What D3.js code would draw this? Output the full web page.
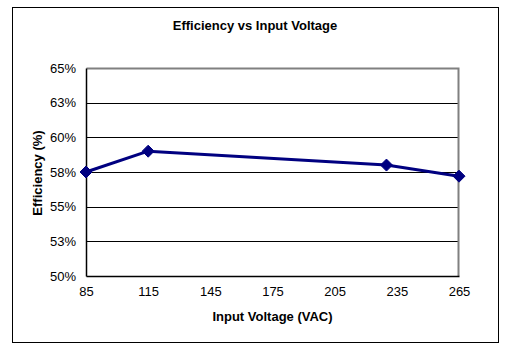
<!DOCTYPE html>
<html>
<head>
<meta charset="utf-8">
<script src="https://cdn.jsdelivr.net/npm/d3@7"></script>
<style>
  body { margin: 0; background: #fff; }
  svg text { font-family: "Liberation Sans", Arial, sans-serif; fill: #000; }
</style>
</head>
<body>
<svg id="chart"></svg>
<script>
// chart data
const voltages = [85, 115, 230, 265];
const efficiency = [57.5, 59.0, 58.0, 57.2];
const xTicks = [85, 115, 145, 175, 205, 235, 265];
const yTicks = [50, 52.5, 55, 57.5, 60, 62.5, 65];
const yTickLabels = ['50%', '53%', '55%', '58%', '60%', '63%', '65%'];

const width = 510, height = 353;
const margin = {top: 68, right: 51, bottom: 77, left: 86};

const svg = d3.select('#chart')
    .attr('width', width)
    .attr('height', height);

// outer chart frame
svg.append('rect')
    .attr('x', 12.5).attr('y', 7.5)
    .attr('width', 486).attr('height', 335)
    .attr('fill', '#fff')
    .attr('stroke', '#000')
    .attr('stroke-width', 1);

const innerW = width - margin.left - margin.right;
const innerH = height - margin.top - margin.bottom;

const x = d3.scaleLinear().domain([85, 265]).range([0, innerW]);
const y = d3.scaleLinear().domain([50, 65]).range([innerH, 0]);

const g = svg.append('g')
    .attr('transform', `translate(${margin.left},${margin.top})`);

// gridlines
g.selectAll('.grid')
    .data(yTicks.slice(1, -1))
    .join('line')
    .attr('x1', 0).attr('x2', innerW)
    .attr('y1', d => Math.round(y(d)) + 0.5)
    .attr('y2', d => Math.round(y(d)) + 0.5)
    .attr('stroke', '#000')
    .attr('stroke-width', 1);

// plot area border: gray top/right
g.append('path')
    .attr('d', `M0.5,0.5H${innerW - 0.5}V${innerH}`)
    .attr('fill', 'none')
    .attr('stroke', '#808080')
    .attr('stroke-width', 2);

// axes
const xAxis = d3.axisBottom(x).tickValues(xTicks).tickSize(0).tickPadding(11);
const yAxis = d3.axisLeft(y).tickValues(yTicks).tickSize(0).tickPadding(10)
    .tickFormat((d, i) => yTickLabels[i]);

const xAxisG = g.append('g')
    .attr('transform', `translate(0,${innerH})`)
    .call(xAxis);
const yAxisG = g.append('g').call(yAxis);

[xAxisG, yAxisG].forEach(a => {
    a.select('.domain').attr('stroke', '#000').attr('stroke-width', 1.5);
    a.selectAll('text')
        .style('font-family', '"Liberation Sans", Arial, sans-serif')
        .style('font-size', '13px')
        .attr('fill', '#000');
});

// data line
const line = d3.line()
    .x((d, i) => x(voltages[i]))
    .y(d => y(d));

g.append('path')
    .datum(efficiency)
    .attr('d', line)
    .attr('fill', 'none')
    .attr('stroke', '#000080')
    .attr('stroke-width', 3)
    .attr('stroke-linejoin', 'round');

// diamond markers
g.selectAll('.marker')
    .data(efficiency)
    .join('path')
    .attr('transform', (d, i) => `translate(${x(voltages[i])},${y(d)})`)
    .attr('d', 'M0,-6L6,0L0,6L-6,0Z')
    .attr('fill', '#000080')
    .attr('stroke', '#000080')
    .attr('stroke-width', 1);

// titles
svg.append('text')
    .attr('x', 255).attr('y', 30)
    .attr('text-anchor', 'middle')
    .style('font-size', '13px')
    .style('font-weight', 'bold')
    .text('Efficiency vs Input Voltage');

svg.append('text')
    .attr('x', margin.left + innerW / 2).attr('y', 321)
    .attr('text-anchor', 'middle')
    .style('font-size', '13px')
    .style('font-weight', 'bold')
    .text('Input Voltage (VAC)');

svg.append('text')
    .attr('transform', `translate(42,${margin.top + innerH / 2 + 1}) rotate(-90)`)
    .attr('text-anchor', 'middle')
    .style('font-size', '13px')
    .style('font-weight', 'bold')
    .text('Efficiency (%)');
</script>
</body>
</html>
